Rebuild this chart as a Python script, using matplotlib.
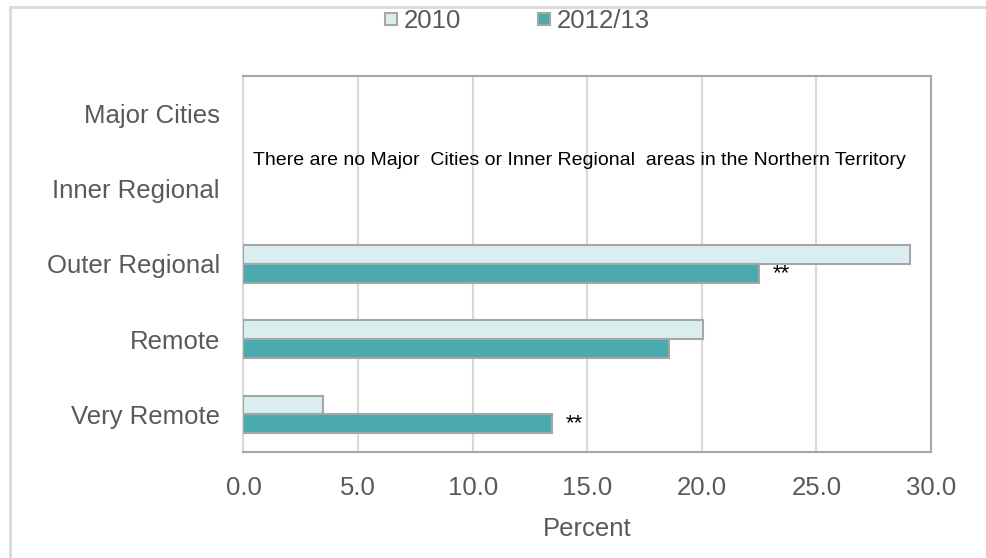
import matplotlib
matplotlib.use("Agg")
import matplotlib.pyplot as plt
from matplotlib.lines import Line2D
from matplotlib.patches import Rectangle
import numpy as np

categories = ["Major Cities", "Inner Regional", "Outer Regional", "Remote", "Very Remote"]
series_names = ["2010", "2012/13"]
values_2010 = [np.nan, np.nan, 29.1, 20.05, 3.45]
values_2012 = [np.nan, np.nan, 22.5, 18.55, 13.45]
significant_2012 = [False, False, True, False, True]
xticks = [0.0, 5.0, 10.0, 15.0, 20.0, 25.0, 30.0]
note = "There are no Major  Cities or Inner Regional  areas in the Northern Territory"

c2010 = "#daeef0"
c2012 = "#4baaad"
edge = "#a6a6a6"
grid = "#d9d9d9"
txt = "#595959"

plt.rcParams['font.family'] = ['Liberation Sans', 'DejaVu Sans']

fig = plt.figure(figsize=(9.87, 5.58), dpi=100)
ax = fig.add_axes([243.5/987, 1-452/558, (931-243.5)/987, (452-76)/558])

y = np.arange(len(categories))
h = 0.25
ax.barh(y - h/2, values_2010, height=h, color=c2010, edgecolor=edge, linewidth=1.5, zorder=3)
ax.barh(y + h/2, values_2012, height=h, color=c2012, edgecolor=edge, linewidth=1.5, zorder=3)

for yi, v, s in zip(y, values_2012, significant_2012):
    if s:
        ax.annotate("**", xy=(v, yi + h/2), xytext=(10, 0), textcoords="offset points",
                    ha="left", va="center", fontsize=16, color="black")

ax.text(14.65, 0.63, note, ha="center", va="center", fontsize=14, color="black", zorder=4)

ax.set_xlim(0, 30)
ax.set_ylim(len(categories) - 0.5, -0.5)
ax.set_xticks(xticks)
ax.set_xticklabels([f"{t:.1f}" for t in xticks])
ax.set_yticks(y)
ax.set_yticklabels(categories)
ax.tick_params(axis="both", length=0, labelsize=18.5, labelcolor=txt)
ax.tick_params(axis="y", pad=17)
ax.tick_params(axis="x", pad=17)
ax.set_xlabel("Percent", fontsize=18.5, color=txt, labelpad=12.5)

ax.grid(axis="x", color=grid, linewidth=1.5, zorder=0)
ax.set_axisbelow(True)
for side in ["top", "right", "bottom"]:
    ax.spines[side].set_color(edge)
    ax.spines[side].set_linewidth(1.5)
ax.spines["left"].set_color(grid)
ax.spines["left"].set_linewidth(1.5)

handles = [Line2D([], [], linestyle="none", marker="s", markersize=9, markerfacecolor=c2010,
                  markeredgecolor=edge, markeredgewidth=1.5),
           Line2D([], [], linestyle="none", marker="s", markersize=9, markerfacecolor=c2012,
                  markeredgecolor=edge, markeredgewidth=1.5)]
leg = fig.legend(handles, series_names, loc="center", bbox_to_anchor=(516/987, 1-21/558),
                 ncol=2, frameon=False, fontsize=18.5, handletextpad=0.15, columnspacing=2.85,
                 handlelength=0.7)
for t in leg.get_texts():
    t.set_color(txt)

fig.patches.append(Rectangle((10/987, -0.1), 1.2, 1 - 7/558 + 0.1, transform=fig.transFigure,
                             fill=False, edgecolor=grid, linewidth=2))

fig.savefig("out.png", dpi=100)
